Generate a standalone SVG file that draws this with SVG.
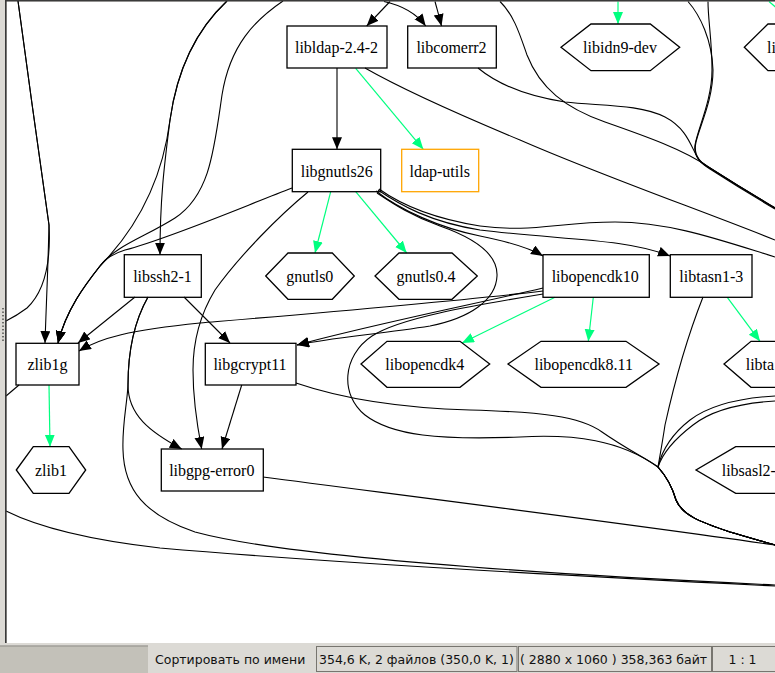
<svg xmlns="http://www.w3.org/2000/svg" width="775" height="673" viewBox="0 0 775 673">
<style>
.n{fill:none;stroke:#000;stroke-width:1.3}
.t{font-family:"Liberation Serif","Times New Roman",serif;font-size:16px;fill:#000;text-anchor:middle}
.ts{font-family:"Liberation Serif","Times New Roman",serif;font-size:16px;fill:#000}
.e{fill:none;stroke:#000;stroke-width:1.1}
.ea{fill:none;stroke:#000;stroke-width:1.1;marker-end:url(#ah)}
.g{fill:none;stroke:#00ff7f;stroke-width:1.2;marker-end:url(#gh)}
.sb{font-family:"DejaVu Sans",sans-serif;font-size:12.5px;fill:#111}
.box{fill:none;stroke:#77756f;stroke-width:1}
</style>
<defs>
<marker id="ah" markerUnits="userSpaceOnUse" markerWidth="14" markerHeight="12" refX="12" refY="5" orient="auto"><path d="M0,0 L12,5 L0,10 z" fill="#000"/></marker>
<marker id="gh" markerUnits="userSpaceOnUse" markerWidth="14" markerHeight="12" refX="12" refY="5" orient="auto"><path d="M0,0 L12,5 L0,10 z" fill="#00ff7f"/></marker>
</defs>
<rect x="0" y="0" width="775" height="673" fill="#dcdad5"/>
<rect x="7" y="1.5" width="768" height="641.5" fill="#fff"/>
<g id="connectors">
<path class="ea" d="M18,1 C27,70 40,160 49,225 C48,270 46,310 45,343"/>
<path class="e" d="M18,1 C27,70 40,160 49,225 C51,262 44,292 27,308 C19,314 12,318 6,321"/>
<path class="ea" d="M227,1 C196,30 177,70 170,120 C165,160 160,195 160,254.7"/>
<path class="ea" d="M227,1 C196,30 177,70 170,120 C163,175 140,225 100,266 C85,285 66,310 58,343"/>
<path class="ea" d="M283,1 C255,20 230,45 222,95 C214,150 210,195 175,218 C145,237 115,246 100,266 C85,285 66,310 58,343"/>
<path class="ea" d="M292,188 C240,208 170,238 125,250 C112,254 105,259 100,266 C85,285 66,310 58,343"/>
<path class="ea" d="M337,68 L337,149.3"/>
<path class="ea" d="M390,1.5 L366.7,26"/>
<path class="ea" d="M384,1.5 C400,5 416,13 425.7,26"/>
<path class="ea" d="M435,1.5 C437,9 439,16 441.5,26"/>
<path class="e" d="M500,1.5 C514,15 520,35 527,55 C540,88 565,108 605,122 C645,136 685,150 710,168 C735,184 758,198 775,208"/>
<path class="e" d="M478,68 C495,82 520,95 565,102 C600,106 640,104 665,117 C690,130 692,152 700,161 C706,167 740,186 775,208"/>
<path class="e" d="M688,1.5 C700,15 712,40 713,70 C713,100 700,125 696,142 C693,155 700,163 710,168 C735,184 758,198 775,208"/>
<path class="e" d="M708,1.5 C708,20 712,40 712,70 C712,100 698,128 695,145 C693,157 702,164 710,169 C735,185 758,199 775,209"/>
<path class="e" d="M365,68 C400,88 460,115 520,140 C600,175 700,210 775,240"/>
<path class="ea" d="M376,191 C400,210 440,228 480,236 C505,241 528,247 543,256"/>
<path class="ea" d="M378,190 C400,205 430,222 480,230 C560,240 625,238 670,256"/>
<path class="e" d="M379,189 C400,204 430,218 480,226 C530,233 560,222 615,222 C670,222 720,240 775,257"/>
<path class="ea" d="M377,193 C395,205 412,216 440,226 C480,240 498,256 497,276 C496,300 470,318 430,326 C380,334 330,338 297,345"/>
<path class="ea" d="M543,288 C470,305 370,325 297,345"/>
<path class="ea" d="M543,291 C450,302 330,312 200,323 C130,330 100,338 79,351"/>
<path class="e" d="M543,294 C470,306 400,318 372,336 C342,356 340,395 365,415 C392,436 440,440 520,437 C575,434 620,440 658,467 C666,476 672,486 676,500 C682,515 700,522 730,532 C750,538 765,542 775,545"/>
<path class="e" d="M296,383 C340,398 400,408 470,410 C540,412 580,416 602,432 C625,448 645,458 658,467 C666,476 672,486 676,500 C682,515 700,522 730,532 C750,538 765,542 775,545"/>
<path class="e" d="M703,297 C690,330 675,380 665,425 C662,445 660,455 658,467 C666,476 672,486 676,500 C682,515 700,522 730,532 C750,538 765,542 775,545"/>
<path class="e" d="M775,396 C740,398 710,405 690,420 C672,434 662,450 658,467 C666,476 672,486 676,500 C682,515 700,522 730,532 C750,538 765,542 775,545"/>
<path class="e" d="M775,401 C742,403 712,410 693,425 C676,438 663,452 658,467 C666,476 672,486 676,500 C682,515 700,522 730,532 C750,538 765,542 775,545"/>
<path class="e" d="M263,477 C400,495 600,520 775,545"/>
<path class="ea" d="M148,297 C135,320 128,350 128,385 C128,415 150,432 181.7,449"/>
<path class="e" d="M148,297 C135,320 128,350 128,385 C127,405 122,425 123,450 C124,490 145,515 195,532 C280,555 500,572 775,585"/>
<path class="e" d="M6,511 C40,528 90,540 160,548 C300,560 550,575 775,586"/>
<path class="e" d="M19,385 L6,396"/>
<path class="ea" d="M135,297 L78,343"/>
<path class="ea" d="M184,297 L230,343"/>
<path class="ea" d="M241.7,385 L222,449"/>
<path class="ea" d="M308,192 C280,215 240,255 215,290 C198,318 193,345 193,370 C193,400 197,425 201.7,449"/>
<path class="g" d="M355.7,68.3 L423.3,149.3"/>
<path class="g" d="M330.7,191.7 L315,253"/>
<path class="g" d="M355.7,191.7 L406.7,253"/>
<path class="g" d="M555,297.3 L462,343"/>
<path class="g" d="M593.3,297.3 L588.3,341.3"/>
<path class="g" d="M727.3,297.3 L760,341.3"/>
<path class="g" d="M49,385 L50,446.7"/>
<path class="g" d="M618,1.5 L618,24"/>
<path fill="none" stroke="#00ff7f" stroke-width="1.2" d="M769,1.5 L776,7.5"/>
</g>
<g id="node-libldap"><rect class="n" x="287" y="26" width="100" height="42"/><text class="t" x="336.5" y="53">libldap-2.4-2</text></g>
<g id="node-libcomerr2"><rect class="n" x="407.7" y="26" width="88.6" height="42"/><text class="t" x="451.5" y="53">libcomerr2</text></g>
<g id="node-libgnutls26"><rect class="n" x="292.3" y="149.3" width="88.4" height="42.4"/><text class="t" x="336.7" y="176.5">libgnutls26</text></g>
<g id="node-ldap-utils"><rect x="401.7" y="149.3" width="77" height="42.4" fill="none" stroke="#ffa500" stroke-width="1.3"/><text class="t" x="439.7" y="176.5">ldap-utils</text></g>
<g id="node-libidn9-dev"><polygon class="n" points="561,47.3 591,24 650.3,24 679.7,47.3 650.3,70.7 591,70.7"/><text class="t" x="620" y="53.3">libidn9-dev</text></g>
<g id="node-topright"><polyline class="n" points="800,24 768,24 744.3,47.3 768,70.7 800,70.7"/><text class="ts" x="767" y="53.3">li</text></g>
<g id="node-libssh2-1"><rect class="n" x="124.3" y="254.7" width="77" height="42.6"/><text class="t" x="162.5" y="282">libssh2-1</text></g>
<g id="node-zlib1g"><rect class="n" x="16" y="343.3" width="63" height="41.7"/><text class="t" x="47.5" y="370">zlib1g</text></g>
<g id="node-libgcrypt11"><rect class="n" x="205.3" y="343.3" width="90.7" height="41.7"/><text class="t" x="250" y="370">libgcrypt11</text></g>
<g id="node-gnutls0"><polygon class="n" points="265.7,276 288,253 332.3,253 354.3,276 332.3,299.3 288,299.3"/><text class="t" x="309.8" y="282">gnutls0</text></g>
<g id="node-gnutls0.4"><polygon class="n" points="375,276 399,253 452,253 477.3,276 452,299.3 399,299.3"/><text class="t" x="426" y="282">gnutls0.4</text></g>
<g id="node-libopencdk4"><polygon class="n" points="361,364 387,341.3 460,341.3 489.7,364 460,387.3 387,387.3"/><text class="t" x="424.8" y="370">libopencdk4</text></g>
<g id="node-libopencdk10"><rect class="n" x="543" y="254.7" width="106.3" height="42.6"/><text class="t" x="595.2" y="282">libopencdk10</text></g>
<g id="node-libtasn1-3"><rect class="n" x="670.3" y="254.7" width="81.7" height="42.6"/><text class="t" x="711.3" y="282">libtasn1-3</text></g>
<g id="node-libopencdk8.11"><polygon class="n" points="508,364 541,341.3 626,341.3 659,364 626,387.3 541,387.3"/><text class="t" x="583.7" y="370">libopencdk8.11</text></g>
<g id="node-libta"><polyline class="n" points="800,341.3 751,341.3 724,364 751,387.3 800,387.3"/><text class="ts" x="745.7" y="370">libta</text></g>
<g id="node-zlib1"><polygon class="n" points="16.3,470 33.3,446.7 69,446.7 85.7,470 69,493.3 33.3,493.3"/><text class="t" x="51" y="476">zlib1</text></g>
<g id="node-libgpg-error0"><rect class="n" x="161.3" y="449" width="102" height="42"/><text class="t" x="211.8" y="476">libgpg-error0</text></g>
<g id="node-libsasl2"><polyline class="n" points="800,446.7 735.7,446.7 696,470 735.7,493.3 800,493.3"/><text class="ts" x="721.7" y="476">libsasl2-</text></g>
<g id="frame">
<rect x="5" y="0" width="1.6" height="643" fill="#3a3a3a"/>
<rect x="5" y="0" width="770" height="1.5" fill="#3a3a3a"/>
<g fill="#6a6a66">
<rect x="2" y="308" width="2" height="1.4"/><rect x="2" y="311.5" width="2" height="1.4"/><rect x="2" y="315" width="2" height="1.4"/><rect x="2" y="318.5" width="2" height="1.4"/><rect x="2" y="322" width="2" height="1.4"/><rect x="2" y="325.5" width="2" height="1.4"/><rect x="2" y="329" width="2" height="1.4"/><rect x="2" y="332.5" width="2" height="1.4"/><rect x="2" y="336" width="2" height="1.4"/><rect x="2" y="339.5" width="2" height="1.4"/>
</g>
</g>
<g id="statusbar">
<rect x="0" y="645.5" width="148" height="27.5" fill="#c3c1b9"/>
<line x1="0" y1="646" x2="148" y2="646" stroke="#8f8d88" stroke-width="1"/>
<text class="sb" x="155" y="664">Сортировать по имени</text>
<rect class="box" x="316.5" y="646.5" width="200.5" height="25"/>
<text class="sb" x="319" y="664">354,6 K, 2 файлов (350,0 K, 1)</text>
<rect class="box" x="518.5" y="646.5" width="193" height="25"/>
<text class="sb" x="520" y="664">( 2880 x 1060 ) 358,363 байт</text>
<rect class="box" x="712.5" y="646.5" width="63" height="25"/>
<text class="sb" x="742.5" y="664" text-anchor="middle">1 : 1</text>
</g>
</svg>
